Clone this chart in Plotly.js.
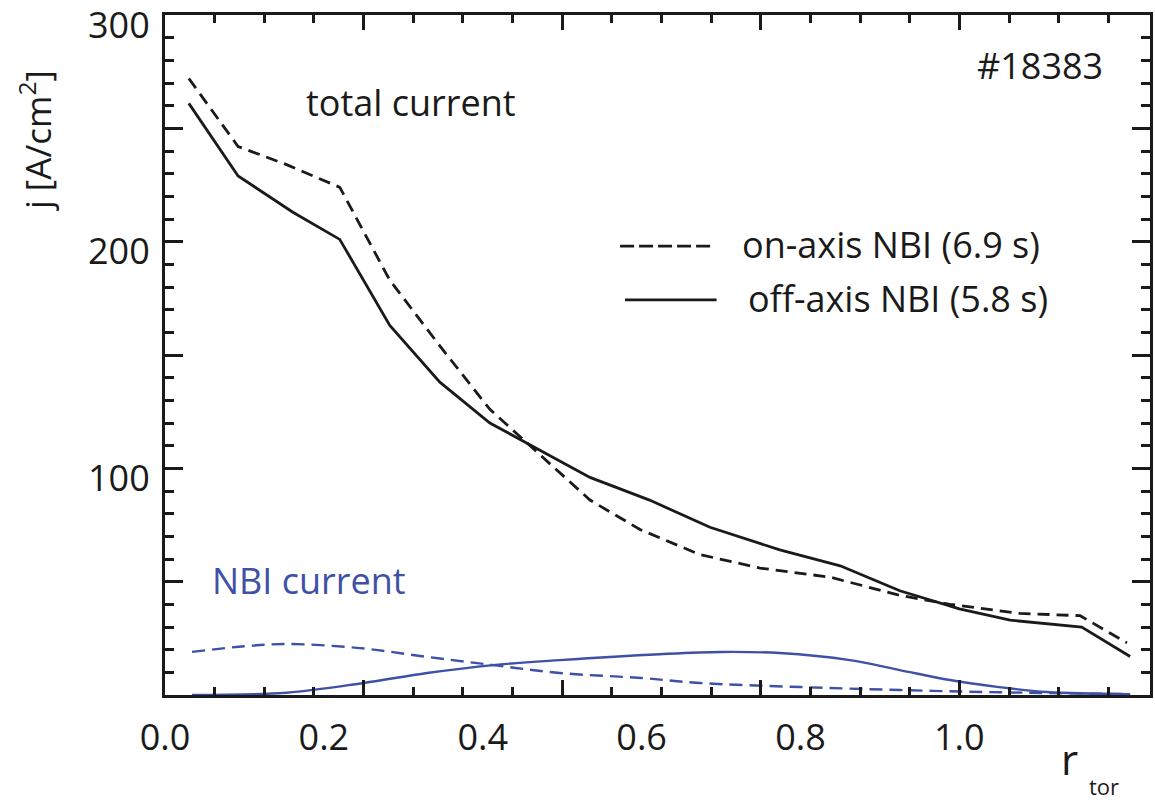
<!DOCTYPE html>
<html>
<head>
<meta charset="utf-8">
<script src="https://cdn.plot.ly/plotly-3.0.1.min.js"></script>
<style>html,body{margin:0;padding:0;background:#fff;}#chart{width:1155px;height:805px;}</style>
</head>
<body>
<div id="chart"></div>
<script>
// r_tor values (label units) and current densities j [A/cm^2]
const rOnTotal  = [0.030, 0.092, 0.153, 0.220, 0.283, 0.346, 0.409, 0.472, 0.535, 0.598, 0.673, 0.749, 0.837, 0.925, 0.988, 1.076, 1.152, 1.211];
const jOnTotal  = [272, 242, 234, 224, 183, 154, 126, 106, 86, 73, 62, 56, 52, 44, 40, 36, 35, 23];

const rOffTotal = [0.030, 0.092, 0.161, 0.220, 0.283, 0.346, 0.409, 0.472, 0.535, 0.610, 0.686, 0.774, 0.850, 0.925, 1.000, 1.064, 1.154, 1.215];
const jOffTotal = [261, 229, 213, 201, 163, 138, 120, 108, 96, 86, 74, 64, 57, 46, 38, 33, 30, 17];

const rOnNBI    = [0.034, 0.100, 0.153, 0.245, 0.330, 0.413, 0.497, 0.600, 0.673, 0.800, 0.925, 1.050, 1.215];
const jOnNBI    = [19, 21.5, 22.5, 20.7, 16.8, 13.2, 9.7, 7.5, 5.3, 3.5, 2.2, 1.2, 0.4];

const rOffNBI   = [0.034, 0.153, 0.250, 0.330, 0.413, 0.497, 0.623, 0.700, 0.774, 0.862, 0.925, 0.988, 1.050, 1.110, 1.215];
const jOffNBI   = [0, 1, 5.3, 9.7, 13.2, 15.4, 18, 19, 18.5, 15.4, 11, 6.6, 3.5, 1.3, 0.3];

const xTickVals  = [0, 0.2, 0.4, 0.6, 0.8, 1.0];
const xTickText  = ['0.0', '0.2', '0.4', '0.6', '0.8', '1.0'];
const yTickVals  = [100, 200, 300];
const yTickText  = ['100', '200', '300'];

const legendLabels = ['on-axis NBI (6.9 s)', 'off-axis NBI (5.8 s)'];

const BLACK = '#1a1a1a';
const BLUE = '#3f51a6';
const FONT = 'Open Sans, Noto Sans, sans-serif';

const traces = [
  {x: rOnTotal, y: jOnTotal, mode: 'lines', line: {color: BLACK, width: 2.8, dash: '12px,7px'}, showlegend: false, hoverinfo: 'skip'},
  {x: rOffTotal, y: jOffTotal, mode: 'lines', line: {color: BLACK, width: 2.8}, showlegend: false, hoverinfo: 'skip'},
  {x: rOnNBI, y: jOnNBI, mode: 'lines', line: {color: BLUE, width: 2.4, dash: '13px,7px', shape: 'spline'}, showlegend: false, hoverinfo: 'skip'},
  {x: rOffNBI, y: jOffNBI, mode: 'lines', line: {color: BLUE, width: 2.4, shape: 'spline'}, showlegend: false, hoverinfo: 'skip'},
  {x: [null], y: [null], xaxis: 'x2', yaxis: 'y2', mode: 'lines', showlegend: false, hoverinfo: 'skip'}
];

const layout = {
  width: 1155, height: 805,
  margin: {l: 165, r: 5, t: 15, b: 110},
  paper_bgcolor: '#fff', plot_bgcolor: '#fff',
  font: {family: FONT, color: BLACK, size: 36},
  showlegend: false,
  xaxis: {
    range: [0, 1.24], tickmode: 'array', tickvals: xTickVals, ticktext: xTickText,
    ticks: '', showline: true, mirror: true, linewidth: 3, linecolor: BLACK,
    showgrid: false, zeroline: false, tickfont: {size: 36, family: FONT, color: BLACK},
    ticklabelstandoff: 9
  },
  xaxis2: {
    overlaying: 'x', anchor: 'y', side: 'bottom', range: [0, 1.24],
    tickmode: 'linear', tick0: 0, dtick: 0.25, ticks: 'inside', ticklen: 15, tickwidth: 3, tickcolor: BLACK,
    minor: {tickmode: 'linear', tick0: 0, dtick: 0.0625, ticks: 'inside', ticklen: 8, tickwidth: 3, tickcolor: BLACK},
    showticklabels: false, showline: false, mirror: 'ticks', showgrid: false, zeroline: false
  },
  yaxis: {
    range: [0, 300], tickmode: 'array', tickvals: yTickVals, ticktext: yTickText,
    ticks: '', showline: true, mirror: true, linewidth: 3, linecolor: BLACK,
    showgrid: false, zeroline: false, tickfont: {size: 36, family: FONT, color: BLACK},
    ticklabelstandoff: 5, ticklabelshift: 10, ticklabeloverflow: 'allow'
  },
  yaxis2: {
    overlaying: 'y', anchor: 'x', side: 'left', range: [0, 300],
    tickmode: 'linear', tick0: 0, dtick: 50, ticks: 'inside', ticklen: 18, tickwidth: 3, tickcolor: BLACK,
    minor: {tickmode: 'linear', tick0: 0, dtick: 10, ticks: 'inside', ticklen: 9, tickwidth: 3, tickcolor: BLACK},
    showticklabels: false, showline: false, mirror: 'ticks', showgrid: false, zeroline: false
  },
  shapes: [
    {type: 'line', xref: 'paper', yref: 'paper', x0: 0.462, x1: 0.555, y0: 0.660, y1: 0.660, line: {color: BLACK, width: 2.8, dash: '14px,5px'}},
    {type: 'line', xref: 'paper', yref: 'paper', x0: 0.467, x1: 0.560, y0: 0.581, y1: 0.581, line: {color: BLACK, width: 2.8}}
  ],
  annotations: [
    {text: 'total current', xref: 'paper', yref: 'paper', x: 0.2497, y: 0.8706, xanchor: 'center', yanchor: 'middle', showarrow: false, font: {size: 36, color: BLACK, family: FONT}},
    {text: '#18383', xref: 'paper', yref: 'paper', x: 0.888, y: 0.926, xanchor: 'center', yanchor: 'middle', showarrow: false, font: {size: 36, color: BLACK, family: FONT}},
    {text: 'NBI current', xref: 'paper', yref: 'paper', x: 0.146, y: 0.169, xanchor: 'center', yanchor: 'middle', showarrow: false, font: {size: 36, color: BLUE, family: FONT}},
    {text: legendLabels[0], xref: 'paper', yref: 'paper', x: 0.5838, y: 0.6618, xanchor: 'left', yanchor: 'middle', showarrow: false, font: {size: 36, color: BLACK, family: FONT}},
    {text: legendLabels[1], xref: 'paper', yref: 'paper', x: 0.5898, y: 0.5838, xanchor: 'left', yanchor: 'middle', showarrow: false, font: {size: 36, color: BLACK, family: FONT}},
    {text: 'j [A/cm<sup>2</sup>]', xref: 'paper', yref: 'paper', x: -0.132, y: 0.816, xanchor: 'center', yanchor: 'middle', textangle: -90, showarrow: false, font: {size: 35, color: BLACK, family: FONT}},
    {text: 'r', xref: 'paper', yref: 'paper', x: 0.918, y: -0.093, xanchor: 'center', yanchor: 'middle', showarrow: false, font: {size: 42, color: BLACK, family: FONT}},
    {text: 'tor', xref: 'paper', yref: 'paper', x: 0.953, y: -0.134, xanchor: 'center', yanchor: 'middle', showarrow: false, font: {size: 22, color: BLACK, family: FONT}}
  ]
};

Plotly.newPlot('chart', traces, layout, {staticPlot: true, displayModeBar: false});
</script>
</body>
</html>
